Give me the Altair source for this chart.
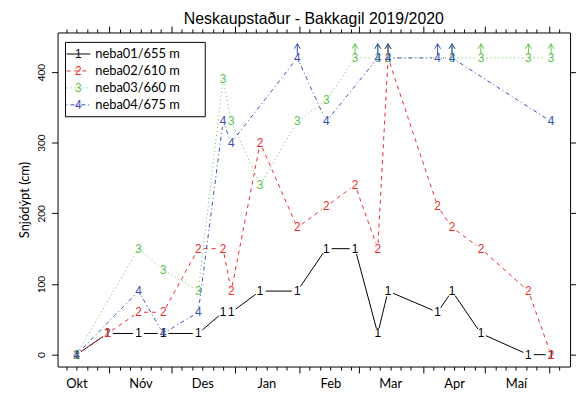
import altair as alt
import pandas as pd
import numpy as np

# ---------------- data ----------------
dates = ["2019-10-16", "2019-10-31", "2019-11-15", "2019-11-27", "2019-12-14",
         "2019-12-26", "2019-12-30", "2020-01-13", "2020-01-31", "2020-02-14",
         "2020-02-28", "2020-03-10", "2020-03-15", "2020-04-08", "2020-04-15",
         "2020-04-29", "2020-05-22", "2020-06-02"]
neba01 = [0, 30, 30, 30, 30, 60, 60, 90, 90, 150, 150, 30, 90, 60, 90, 30, 0, 0]
neba02 = [0, 30, 60, 60, 150, 150, 90, 300, 180, 210, 240, 150, 420, 210, 180, 150, 90, 0]
neba03 = [0, None, 150, 120, 90, 390, 330, 240, 330, 360, 420, 420, 420, None, 420, 420, 420, 420]
neba04 = [0, None, 90, 30, 60, 330, 300, None, 420, 330, None, 420, 420, 420, 420, None, None, 330]

series_names = ["neba01/655 m", "neba02/610 m", "neba03/660 m", "neba04/675 m"]
series_vals = [neba01, neba02, neba03, neba04]
digits = ["1", "2", "3", "4"]
colors = ["#000000", "#EE2A2A", "#5CC24A", "#3A4DB5"]
dashes = [None, [4, 4], [1, 3], [1, 3, 4, 3]]
CAP = 420  # values at the cap get an arrow

month_labels = ["Okt", "Nóv", "Des", "Jan", "Feb", "Mar", "Apr", "Maí"]
month_starts = ["2019-10", "2019-11", "2019-12", "2020-01", "2020-02", "2020-03",
                "2020-04", "2020-05", "2020-06"]
tick_days_of_month = [1, 6, 11, 16, 21, 26]
first_tick, last_tick = "2019-10-11", "2020-06-06"
y_ticks = [0, 100, 200, 300, 400]

title = "Neskaupstaður - Bakkagil 2019/2020"
y_title = "Snjódýpt (cm)"

# ---------------- derived tables ----------------
origin = pd.Timestamp("2019-10-01")
def dnum(s):
    return (pd.Timestamp(s) - origin).days

days = [dnum(s) for s in dates]

W, H = 517, 337
XDOM = [5.8, 254.2]
YDOM = [-16.8, 456.0]
KX = W / (XDOM[1] - XDOM[0])
KY = H / (YDOM[1] - YDOM[0])
xs = alt.Scale(domain=XDOM, nice=False, zero=False)
ys = alt.Scale(domain=YDOM, nice=False, zero=False)

minor, major, lab_days = [], [], []
for i, ms in enumerate(month_starts):
    y, m = map(int, ms.split("-"))
    for dd in tick_days_of_month:
        t = pd.Timestamp(y, m, dd)
        if t < pd.Timestamp(first_tick) or t > pd.Timestamp(last_tick):
            continue
        (major if dd == 1 else minor).append((t - origin).days)
    if i < len(month_labels):
        lab_days.append((pd.Timestamp(y, m, 16) - origin).days)

label_expr = "''"
for d, lbl in reversed(list(zip(lab_days, month_labels))):
    label_expr = f"datum.value == {d} ? '{lbl}' : ({label_expr})"


def segments(vals, gap=5.5):
    pts = [(d, v) for d, v in zip(days, vals) if v is not None]
    rows = []
    for (d0, v0), (d1, v1) in zip(pts[:-1], pts[1:]):
        px, py = (d1 - d0) * KX, (v1 - v0) * KY
        L = float(np.hypot(px, py))
        if L <= 2 * gap:
            continue
        f = gap / L
        rows.append(dict(x=d0 + f * (d1 - d0), y=v0 + f * (v1 - v0),
                         x2=d1 - f * (d1 - d0), y2=v1 - f * (v1 - v0)))
    return pd.DataFrame(rows)


def points(vals):
    return pd.DataFrame([dict(d=d, v=v) for d, v in zip(days, vals) if v is not None])


def arrows(vals):
    return pd.DataFrame([dict(d=d, v0=CAP + 5, v1=CAP + 20)
                         for d, v in zip(days, vals) if v is not None and v >= CAP])


X = lambda f: alt.X(f, type="quantitative", scale=xs, axis=None)
Y = lambda f: alt.Y(f, type="quantitative", scale=ys, axis=None)

layers = []
for vals, dg, col, dash in zip(series_vals, digits, colors, dashes):
    kw = dict(color=col, strokeWidth=1)
    if dash:
        kw["strokeDash"] = dash
    seg = segments(vals)
    layers.append(alt.Chart(seg).mark_rule(**kw).encode(
        x=X("x"), y=Y("y"), x2="x2", y2="y2"))
    layers.append(alt.Chart(points(vals)).mark_text(
        text=dg, font="Liberation Sans", fontSize=12, color=col,
        align="center", baseline="middle").encode(x=X("d"), y=Y("v")))
    ar = arrows(vals)
    if len(ar):
        layers.append(alt.Chart(ar).mark_rule(color=col, strokeWidth=1).encode(
            x=X("d"), y=Y("v0"), y2="v1"))
        layers.append(alt.Chart(ar).mark_point(
            shape="M -0.6 1 L 0 0 L 0.6 1", filled=False, size=100,
            color=col, strokeWidth=1, opacity=1).encode(x=X("d"), y=Y("v1")))

# ---------------- axes (ticks on all four sides) ----------------
common = dict(grid=False, domain=False, tickColor="black", tickWidth=1, title=None)
xminor = pd.DataFrame({"d": minor})
xmajor = pd.DataFrame({"d": major})
ydf = pd.DataFrame({"v": y_ticks})

def xaxis_layer(df, **ax):
    return alt.Chart(df).mark_point(opacity=0).encode(
        x=alt.X("d:Q", scale=xs, axis=alt.Axis(**common, **ax)))

def yaxis_layer(**ax):
    return alt.Chart(ydf).mark_point(opacity=0).encode(
        y=alt.Y("v:Q", scale=ys, axis=alt.Axis(**ax)))

axis_layers = [
    xaxis_layer(xminor, orient="bottom", values=minor, tickSize=3.5,
                labelExpr=label_expr, labelFont="Lato", labelFontSize=13,
                labelColor="black", labelPadding=8, labelOverlap=False,
                labelFlush=False),
    xaxis_layer(xmajor, orient="bottom", values=major, tickSize=6.5, labels=False),
    xaxis_layer(xminor, orient="top", values=minor, tickSize=3.5, labels=False),
    xaxis_layer(xmajor, orient="top", values=major, tickSize=6.5, labels=False),
    yaxis_layer(orient="left", values=y_ticks, tickSize=6, grid=False, domain=False,
                tickColor="black", labelAngle=-90, labelAlign="center",
                labelBaseline="bottom", labelFont="Lato", labelFontSize=10,
                labelColor="black", labelPadding=5, labelFlush=False,
                title=y_title, titleFont="Lato", titleFontSize=13,
                titleFontWeight="normal", titleColor="black", titlePadding=5),
    yaxis_layer(orient="right", values=y_ticks, tickSize=6, grid=False, domain=False,
                tickColor="black", labels=False, title=None),
]

# ---------------- legend ----------------
one = pd.DataFrame({"k": [0]})
leg = [alt.Chart(one).mark_rect(fill="white", stroke="black", strokeWidth=1).encode(
    x=alt.value(8), x2=alt.value(149), y=alt.value(10), y2=alt.value(85))]
for i, (name, dg, col, dash) in enumerate(zip(series_names, digits, colors, dashes)):
    yy = 21.7 + i * 17.1
    kw = dict(color=col, strokeWidth=1)
    if dash:
        kw["strokeDash"] = dash
    leg.append(alt.Chart(one).mark_rule(**kw).encode(
        x=alt.value(9), x2=alt.value(33), y=alt.value(yy)))
    leg.append(alt.Chart(one).mark_text(
        text=dg, font="Liberation Sans", fontSize=12, color=col,
        align="center", baseline="middle").encode(x=alt.value(21), y=alt.value(yy)))
    leg.append(alt.Chart(one).mark_text(
        text=name, font="Lato", fontSize=13, color="black",
        align="left", baseline="middle").encode(x=alt.value(38), y=alt.value(yy)))

chart = alt.layer(*axis_layers, *layers, *leg).resolve_axis(
    x="independent", y="independent"
).properties(
    width=W, height=H,
    autosize="none",
    padding={"left": 50, "top": 23, "right": 6, "bottom": 25},
    title=alt.TitleParams(title, font="Liberation Sans", fontSize=16,
                          fontWeight="normal", color="black", anchor="middle",
                          offset=-1),
    background="white",
).configure_view(stroke="black", strokeWidth=1)

chart.save("out.html", embed_options={"renderer": "svg", "actions": False})
